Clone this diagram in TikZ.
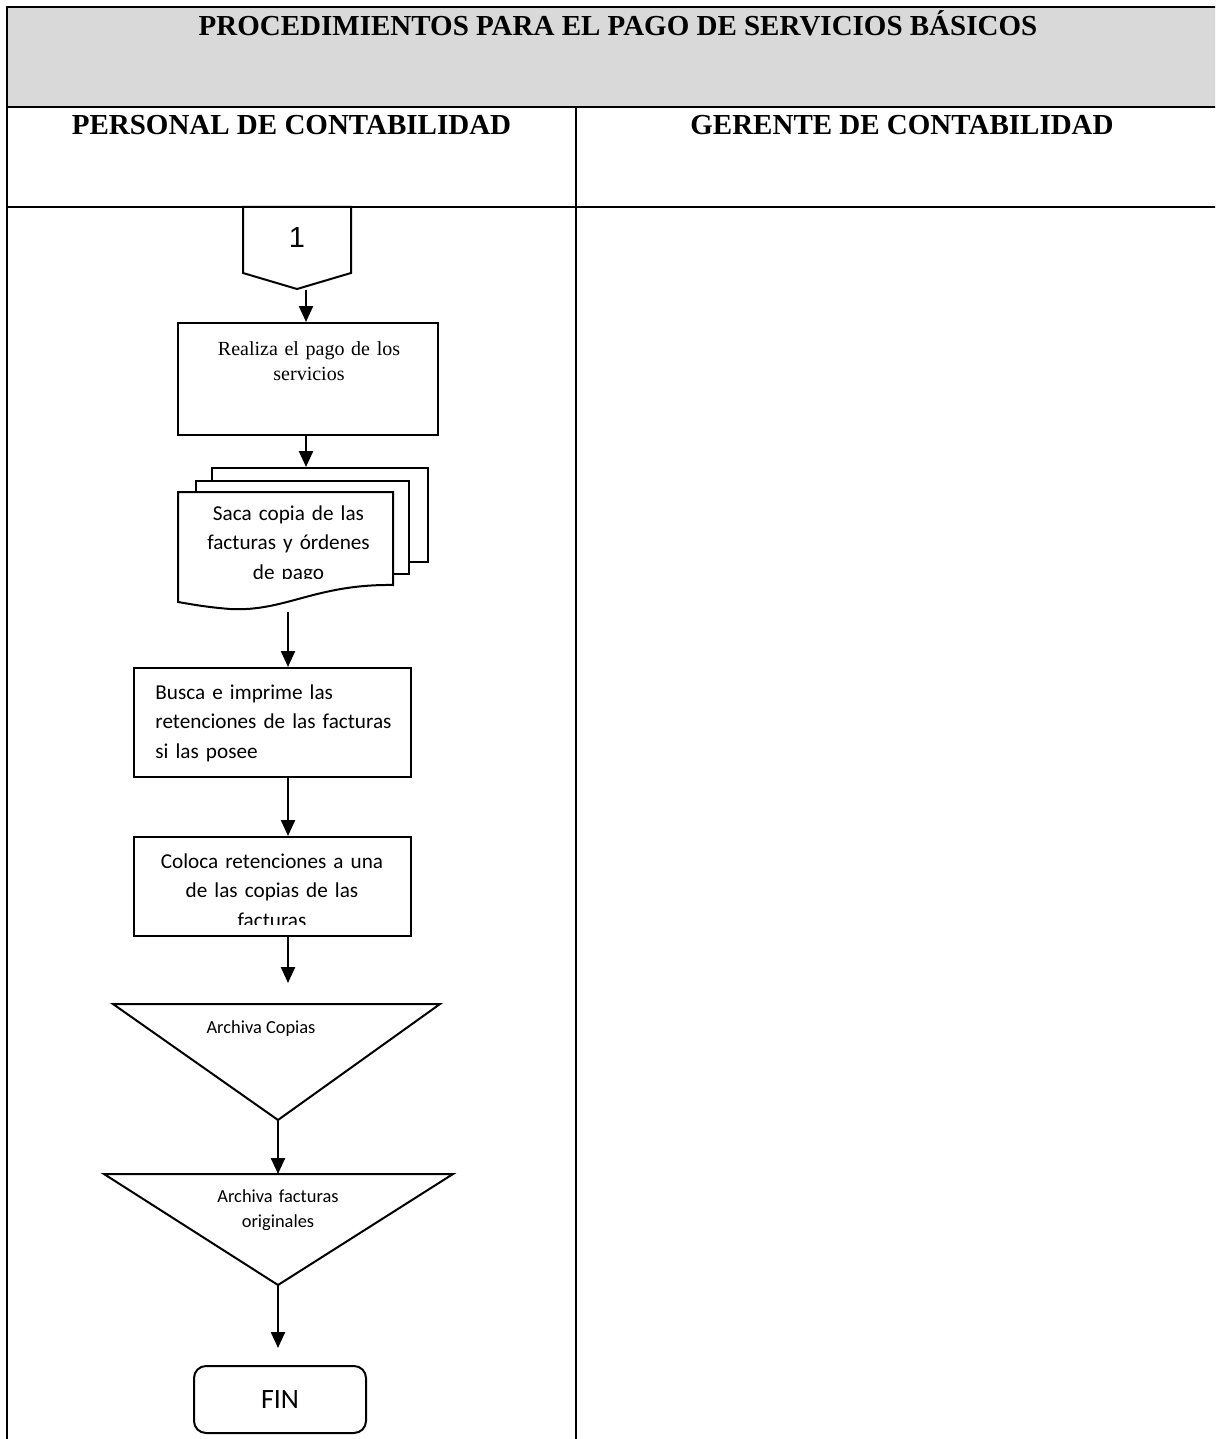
\documentclass[tikz,border=0pt]{standalone}
\usepackage{fontspec}
\setmainfont{Liberation Serif}
\newfontfamily\calib{Carlito}
\newfontfamily\arialf{Liberation Sans}
\usetikzlibrary{arrows.meta,positioning}
\definecolor{headgray}{HTML}{D9D9D9}

\begin{document}
\begin{tikzpicture}[x=0.5pt,y=-0.5pt,
    rule/.style={line width=1.2pt},
    shapeline/.style={draw,line width=1pt,fill=white},
    box/.style={draw,line width=1pt,fill=white,inner sep=0pt},
    arr/.style={line width=1.15pt,-{Triangle[width=7pt,length=8pt]}},
    head/.style={font=\fontsize{14.5}{17}\selectfont\bfseries,inner sep=0pt},
    sans/.style={font=\calib\fontsize{10.6}{14.75}\selectfont,inner sep=0pt},
    sanssmall/.style={font=\calib\fontsize{9.2}{12.5}\selectfont,inner sep=0pt}]

    \clip (0,0) rectangle (1215,1439);

    % table frame
    \fill[headgray] (7,7) rectangle (1240,107);
    \draw[rule] (7,1460) -- (7,7) -- (1240,7);
    \draw[rule] (7,107) -- (1240,107);
    \draw[rule] (7,207) -- (1240,207);
    \draw[rule] (576,107) -- (576,1460);

    \node[head,anchor=base] (titulo) at (618,36) {PROCEDIMIENTOS PARA EL PAGO DE SERVICIOS BÁSICOS};
    \node[head,anchor=base] (personal) at (291.5,135) {PERSONAL DE CONTABILIDAD};
    \node[head,anchor=base] (gerente) at (902,135) {GERENTE DE CONTABILIDAD};

    % connector 1
    \draw[shapeline] (243,207) -- (351,207) -- (351,273) -- (297,289) -- (243,273) -- cycle;
    \node[font=\arialf\fontsize{14.5}{17}\selectfont] (uno) at (297,238) {1};
    \coordinate (c1out) at (306,290);

    % pago
    \node[box,minimum width=130pt,minimum height=56pt] (pago) at (308,379) {};
    \node[font=\fontsize{10}{12.5}\selectfont,text width=120pt,align=center,anchor=base,inner sep=0pt] (pagotxt) at (309,355) {Realiza el pago de los\\servicios};

    % copias (document stack)
    \node[box,minimum width=108pt,minimum height=47pt] (hoja3) at (320,515) {};
    \node[box,minimum width=106.5pt,minimum height=46.5pt] (hoja2) at (302.5,527.5) {};
    \draw[shapeline] (178,492) -- (393,492) -- (393,585)
        .. controls (315,584) and (285,612) .. (230,609)
        .. controls (205,607) and (190,604) .. (178,602) -- cycle;
    \begin{scope}
        \clip (170,490) rectangle (400,578);
        \node[sans,text width=100pt,align=center,anchor=base] (copia) at (288.5,520) {Saca copia de las\\facturas y órdenes\\de pago};
    \end{scope}
    \coordinate (copiaout) at (288,612);
    \coordinate (axis) at (288,0);

    % retenciones
    \node[box,minimum width=138.5pt,minimum height=54.5pt] (busca) at (272.5,722.5) {};
    \node[sans,text width=125pt,align=left,anchor=base west] (buscatxt) at (155,699) {Busca e imprime las\\retenciones de las facturas\\si las posee};
    \node[box,minimum width=138.5pt,minimum height=49.5pt] (coloca) at (272.5,886.5) {};
    \begin{scope}
        \clip (136,839) rectangle (409,924);
        \node[sans,text width=125pt,align=center,anchor=base] (colocatxt) at (272,868) {Coloca retenciones a una\\de las copias de las\\facturas};
    \end{scope}

    % archivos
    \draw[shapeline] (113,1004) -- (440,1004) -- (278,1120) -- cycle;
    \coordinate (t1top) at (288,1004);
    \coordinate (t1apex) at (278,1120);
    \node[sanssmall,anchor=base] (copias) at (261,1033) {Archiva Copias};
    \draw[shapeline] (104,1174) -- (453,1174) -- (278,1285) -- cycle;
    \coordinate (t2top) at (278,1174);
    \coordinate (t2apex) at (278,1285);
    \begin{scope}
        \clip (150,1176) rectangle (400,1229);
        \node[sanssmall,text width=90pt,align=center,anchor=base] (originales) at (278,1202) {Archiva facturas\\originales};
    \end{scope}

    % fin
    \node[box,rounded corners=6pt,minimum width=86pt,minimum height=33.5pt,font=\calib\fontsize{14}{17}\selectfont] (fin) at (280,1399.5) {FIN};

    % flechas
    \draw[arr] (c1out) -- (c1out |- pago.north);
    \draw[arr] (pago.south -| c1out) -- (c1out |- hoja3.north);
    \draw[arr] (copiaout) -- (copiaout |- busca.north);
    \draw[arr] (busca.south -| axis) -- (coloca.north -| axis);
    \draw[arr,shorten >=10.5pt] (coloca.south -| axis) -- (t1top);
    \draw[arr] (t1apex) -- (t2top);
    \draw[arr,shorten >=8.5pt] (t2apex) -- (t2apex |- fin.north);
\end{tikzpicture}
\end{document}
